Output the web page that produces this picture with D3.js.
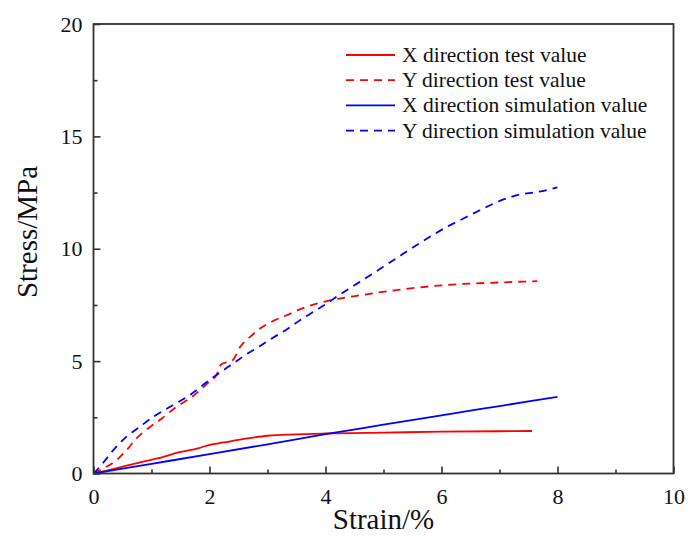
<!DOCTYPE html>
<html>
<head>
<meta charset="utf-8">
<script src="https://cdn.jsdelivr.net/npm/d3@7"></script>
<style>
  body { margin: 0; background: #fff; }
</style>
</head>
<body>
<svg width="689" height="548"></svg>
<script>
// data (strain %, stress MPa)
var xTestStrain   = [0, 0.3, 0.8, 1.1, 1.5, 1.8, 2.0, 2.25, 2.5, 2.75, 3.0, 3.5, 4.0, 5.0, 6.0, 7.0, 7.56];
var xTestStress   = [0, 0.17, 0.5, 0.67, 0.96, 1.12, 1.27, 1.38, 1.5, 1.6, 1.68, 1.74, 1.78, 1.82, 1.86, 1.88, 1.89];
var yTestStrain   = [0, 0.17, 0.4, 0.57, 0.74, 0.94, 1.18, 1.43, 1.66, 1.84, 2.0, 2.12, 2.2, 2.4, 2.53, 2.7, 2.87, 3.1, 3.33, 3.56, 3.85, 4.13, 4.6, 5.34, 6.26, 7.0, 7.65];
var yTestStress   = [0, 0.23, 0.6, 1.04, 1.56, 2.0, 2.45, 2.97, 3.34, 3.71, 4.1, 4.38, 4.85, 5.05, 5.64, 6.08, 6.45, 6.79, 7.04, 7.3, 7.56, 7.73, 7.93, 8.2, 8.42, 8.5, 8.56];
var xSimStrain    = [0, 1, 2, 3, 4, 5, 6, 7, 8];
var xSimStress    = [0, 0.43, 0.86, 1.3, 1.75, 2.17, 2.59, 3.0, 3.41];
var ySimStrain    = [0, 0.11, 0.34, 0.57, 0.8, 1.03, 1.32, 1.66, 1.98, 2.12, 2.41, 2.64, 2.87, 3.1, 3.33, 3.56, 3.79, 4.02, 4.19, 4.71, 5.17, 5.63, 6.09, 6.32, 6.66, 6.89, 7.35, 7.64, 8.0];
var ySimStress    = [0, 0.3, 1.04, 1.64, 2.08, 2.52, 2.97, 3.49, 4.12, 4.38, 4.9, 5.31, 5.67, 6.05, 6.41, 6.82, 7.19, 7.56, 7.86, 8.72, 9.49, 10.26, 10.97, 11.27, 11.71, 12.0, 12.41, 12.52, 12.73];

var seriesNames = ["X direction test value", "Y direction test value",
                   "X direction simulation value", "Y direction simulation value"];
var xTicks = [0, 2, 4, 6, 8, 10];
var xMinorTicks = [1, 3, 5, 7, 9];
var yTicks = [0, 5, 10, 15, 20];
var yMinorTicks = [2.5, 7.5, 12.5, 17.5];

var fontFamily = "Liberation Serif";

var svg = d3.select("svg"),
    margin = {top: 24, right: 15.5, bottom: 74.5, left: 93.5},
    width = +svg.attr("width") - margin.left - margin.right,
    height = +svg.attr("height") - margin.top - margin.bottom;

var x = d3.scaleLinear().domain([0, 10]).range([0, width]);
var y = d3.scaleLinear().domain([0, 20]).range([height, 0]);

var g = svg.append("g")
  .attr("transform", "translate(" + margin.left + "," + margin.top + ")");

function zip(a, b) { return a.map(function(v, i) { return [v, b[i]]; }); }

var series = [
  {name: seriesNames[0], pts: zip(xTestStrain, xTestStress), color: "#ff0000", dash: null},
  {name: seriesNames[1], pts: zip(yTestStrain, yTestStress), color: "#ff0000", dash: "8,6"},
  {name: seriesNames[2], pts: zip(xSimStrain, xSimStress), color: "#0000ff", dash: null},
  {name: seriesNames[3], pts: zip(ySimStrain, ySimStress), color: "#0000ff", dash: "8,6"}
];

var line = d3.line()
  .x(function(d) { return x(d[0]); })
  .y(function(d) { return y(d[1]); })
  .curve(d3.curveMonotoneX);

g.selectAll(".series")
  .data(series)
  .enter().append("path")
  .attr("class", "series")
  .attr("d", function(d) { return line(d.pts); })
  .attr("fill", "none")
  .attr("stroke", function(d) { return d.color; })
  .attr("stroke-width", 1.8)
  .attr("stroke-dasharray", function(d) { return d.dash; });

// axes, ticks point inward
var axisColor = "#333";

var xAxis = g.append("g")
  .attr("transform", "translate(0," + height + ")")
  .call(d3.axisBottom(x).tickValues(xTicks).tickSize(-7).tickPadding(15).tickFormat(d3.format("d")));
var xMinor = g.append("g")
  .attr("transform", "translate(0," + height + ")")
  .call(d3.axisBottom(x).tickValues(xMinorTicks).tickSize(-4).tickFormat(""));

var yAxis = g.append("g")
  .call(d3.axisLeft(y).tickValues(yTicks).tickSize(-7).tickPadding(11).tickFormat(d3.format("d")));
var yMinor = g.append("g")
  .call(d3.axisLeft(y).tickValues(yMinorTicks).tickSize(-4).tickFormat(""));

[xAxis, xMinor, yAxis, yMinor].forEach(function(a) {
  a.select(".domain").remove();
  a.selectAll("line").attr("stroke", axisColor).attr("stroke-width", 1.6);
  a.selectAll("text")
    .attr("font-family", fontFamily)
    .attr("font-size", 22)
    .attr("fill", "#111");
});

// frame
g.append("rect")
  .attr("width", width)
  .attr("height", height)
  .attr("fill", "none")
  .attr("stroke", axisColor)
  .attr("stroke-width", 1.8);

// axis titles
svg.append("text")
  .attr("x", margin.left + width / 2)
  .attr("y", 529)
  .attr("text-anchor", "middle")
  .attr("font-family", fontFamily)
  .attr("font-size", 29)
  .attr("fill", "#111")
  .text("Strain/%");

svg.append("text")
  .attr("transform", "translate(37,232) rotate(-90)")
  .attr("text-anchor", "middle")
  .attr("font-family", fontFamily)
  .attr("font-size", 29)
  .attr("fill", "#111")
  .text("Stress/MPa");

// legend
var legend = svg.selectAll(".legend")
  .data(series)
  .enter().append("g")
  .attr("class", "legend")
  .attr("transform", function(d, i) { return "translate(346," + (55 + i * 25.2) + ")"; });

legend.append("line")
  .attr("x1", 0).attr("x2", 49)
  .attr("stroke", function(d) { return d.color; })
  .attr("stroke-width", 1.8)
  .attr("stroke-dasharray", function(d) { return d.dash; });

legend.append("text")
  .attr("x", 56)
  .attr("y", 7)
  .attr("font-family", fontFamily)
  .attr("font-size", 21.5)
  .attr("fill", "#111")
  .text(function(d) { return d.name; });
</script>
</body>
</html>
